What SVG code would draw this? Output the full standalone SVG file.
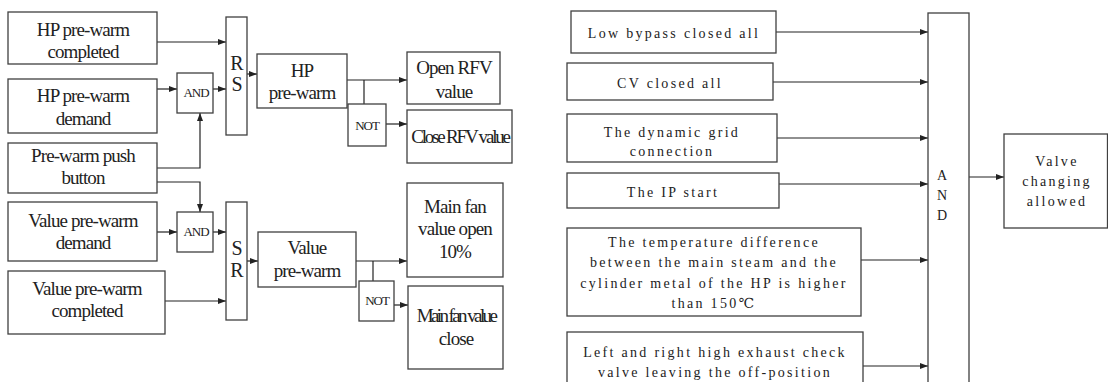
<svg xmlns="http://www.w3.org/2000/svg" width="1108" height="382" viewBox="0 0 1108 382">
<defs>
<style>
.box{fill:#fff;stroke:#404040;stroke-width:1.3}
.ln{fill:none;stroke:#222;stroke-width:1.2}
.arr{marker-end:url(#ah)}
.lt{font-family:'Liberation Serif','DejaVu Serif',serif;font-size:19px;letter-spacing:-0.9px;fill:#222;text-anchor:middle}
.gt{font-family:'Liberation Serif','DejaVu Serif',serif;font-size:13px;letter-spacing:-1px;fill:#222;text-anchor:middle}
.rs{font-family:'Liberation Serif','DejaVu Serif',serif;font-size:20px;fill:#222;text-anchor:middle}
.rt{font-family:'Liberation Serif','DejaVu Serif','Noto Sans CJK SC',serif;font-size:14px;letter-spacing:2.3px;fill:#222;text-anchor:middle}
</style>
<marker id="ah" markerUnits="userSpaceOnUse" markerWidth="9" markerHeight="7" refX="8" refY="3" orient="auto">
<path d="M0,0 L8,3 L0,6 z" fill="#222"/>
</marker>
</defs>
<rect width="1108" height="382" fill="#fff"/>

<g id="connectors">
<path class="ln arr" d="M157,42 H226"/>
<path class="ln arr" d="M157,89 H177"/>
<path class="ln arr" d="M213,89 H226"/>
<path class="ln arr" d="M157,168 H200 V113"/>
<path class="ln arr" d="M157,182 H200 V212"/>
<path class="ln arr" d="M157,232 H177"/>
<path class="ln arr" d="M213,232 H226"/>
<path class="ln arr" d="M165,301 H226"/>
<path class="ln arr" d="M247,74 H257"/>
<path class="ln arr" d="M247,261 H258"/>
<path class="ln arr" d="M347,80 H407"/>
<path class="ln" d="M364,80 V104"/>
<path class="ln arr" d="M386,124 H407"/>
<path class="ln arr" d="M356,261 H407"/>
<path class="ln" d="M373,261 V281"/>
<path class="ln arr" d="M394,305 H408"/>
<path class="ln arr" d="M776,32 H928"/>
<path class="ln arr" d="M773,82 H928"/>
<path class="ln arr" d="M777,138 H928"/>
<path class="ln arr" d="M779,184 H928"/>
<path class="ln arr" d="M861,260 H928"/>
<path class="ln arr" d="M863,366 H928"/>
<path class="ln arr" d="M969,177 H1004"/>
</g>

<g id="hp-completed"><rect class="box" x="8" y="12" width="149" height="52"/><text class="lt" x="83" y="36">HP pre-warm</text><text class="lt" x="83" y="58">completed</text></g>
<g id="hp-demand"><rect class="box" x="8" y="79" width="149" height="54"/><text class="lt" x="83" y="102">HP pre-warm</text><text class="lt" x="83" y="125">demand</text></g>
<g id="push-button"><rect class="box" x="8" y="143" width="149" height="50"/><text class="lt" x="83" y="162">Pre-warm push</text><text class="lt" x="83" y="184">button</text></g>
<g id="value-demand"><rect class="box" x="8" y="202" width="149" height="59"/><text class="lt" x="83" y="227">Value pre-warm</text><text class="lt" x="83" y="249">demand</text></g>
<g id="value-completed"><rect class="box" x="8" y="271" width="157" height="63"/><text class="lt" x="87" y="295">Value pre-warm</text><text class="lt" x="87" y="317">completed</text></g>
<g id="and1"><rect class="box" x="177" y="73" width="36" height="40"/><text class="gt" x="196" y="97">AND</text></g>
<g id="and2"><rect class="box" x="177" y="212" width="36" height="40"/><text class="gt" x="196" y="236">AND</text></g>
<g id="rs"><rect class="box" x="226" y="17" width="21" height="118"/><text class="rs" x="237" y="70">R</text><text class="rs" x="237" y="91">S</text></g>
<g id="sr"><rect class="box" x="226" y="202" width="21" height="118"/><text class="rs" x="237" y="255">S</text><text class="rs" x="237" y="277">R</text></g>
<g id="hp-prewarm"><rect class="box" x="257" y="54" width="90" height="54"/><text class="lt" x="302" y="77">HP</text><text class="lt" x="302" y="99">pre-warm</text></g>
<g id="value-prewarm"><rect class="box" x="258" y="232" width="98" height="55"/><text class="lt" x="307" y="254">Value</text><text class="lt" x="307" y="277">pre-warm</text></g>
<g id="not1"><rect class="box" x="348" y="104" width="38" height="42"/><text class="gt" x="367" y="130">NOT</text></g>
<g id="not2"><rect class="box" x="359" y="281" width="35" height="40"/><text class="gt" x="377" y="305">NOT</text></g>
<g id="open-rfv"><rect class="box" x="407" y="52" width="93" height="52"/><text class="lt" x="454" y="74">Open RFV</text><text class="lt" x="454" y="98">value</text></g>
<g id="close-rfv"><rect class="box" x="407" y="110" width="105" height="53"/><text class="lt" x="460" y="143" style="letter-spacing:-2.2px">Close RFV value</text></g>
<g id="fan-open"><rect class="box" x="407" y="183" width="96" height="94"/><text class="lt" x="455" y="213">Main fan</text><text class="lt" x="455" y="235">value open</text><text class="lt" x="455" y="258">10%</text></g>
<g id="fan-close"><rect class="box" x="408" y="286" width="95" height="83"/><text class="lt" x="456" y="322" style="letter-spacing:-2.6px">Main fan value</text><text class="lt" x="456" y="345">close</text></g>

<g id="low-bypass"><rect class="box" x="571" y="11" width="205" height="42"/><text class="rt" x="674" y="38">Low bypass closed all</text></g>
<g id="cv-closed"><rect class="box" x="567" y="63" width="206" height="37"/><text class="rt" x="670" y="88">CV closed all</text></g>
<g id="grid"><rect class="box" x="567" y="114" width="210" height="48"/><text class="rt" x="672" y="137">The dynamic grid</text><text class="rt" x="672" y="156">connection</text></g>
<g id="ip-start"><rect class="box" x="567" y="173" width="212" height="35"/><text class="rt" x="673" y="197">The IP start</text></g>
<g id="temperature"><rect class="box" x="567" y="228" width="294" height="88"/><text class="rt" x="714" y="247">The temperature difference</text><text class="rt" x="714" y="267">between the main steam and the</text><text class="rt" x="714" y="288">cylinder metal of the HP is higher</text><text class="rt" x="714" y="308">than 150℃</text></g>
<g id="check-valve"><rect class="box" x="567" y="332" width="296" height="70"/><text class="rt" x="715" y="357">Left and right high exhaust check</text><text class="rt" x="715" y="377">valve leaving the off-position</text></g>
<g id="and-big"><rect class="box" x="928" y="13" width="41" height="390"/><text class="rt" x="942" y="180" style="letter-spacing:0">A</text><text class="rt" x="942" y="200" style="letter-spacing:0">N</text><text class="rt" x="942" y="220" style="letter-spacing:0">D</text></g>
<g id="valve-changing"><rect class="box" x="1004" y="134" width="103.5" height="94"/><text class="rt" x="1057" y="166">Valve</text><text class="rt" x="1057" y="186">changing</text><text class="rt" x="1057" y="206">allowed</text></g>
</svg>
